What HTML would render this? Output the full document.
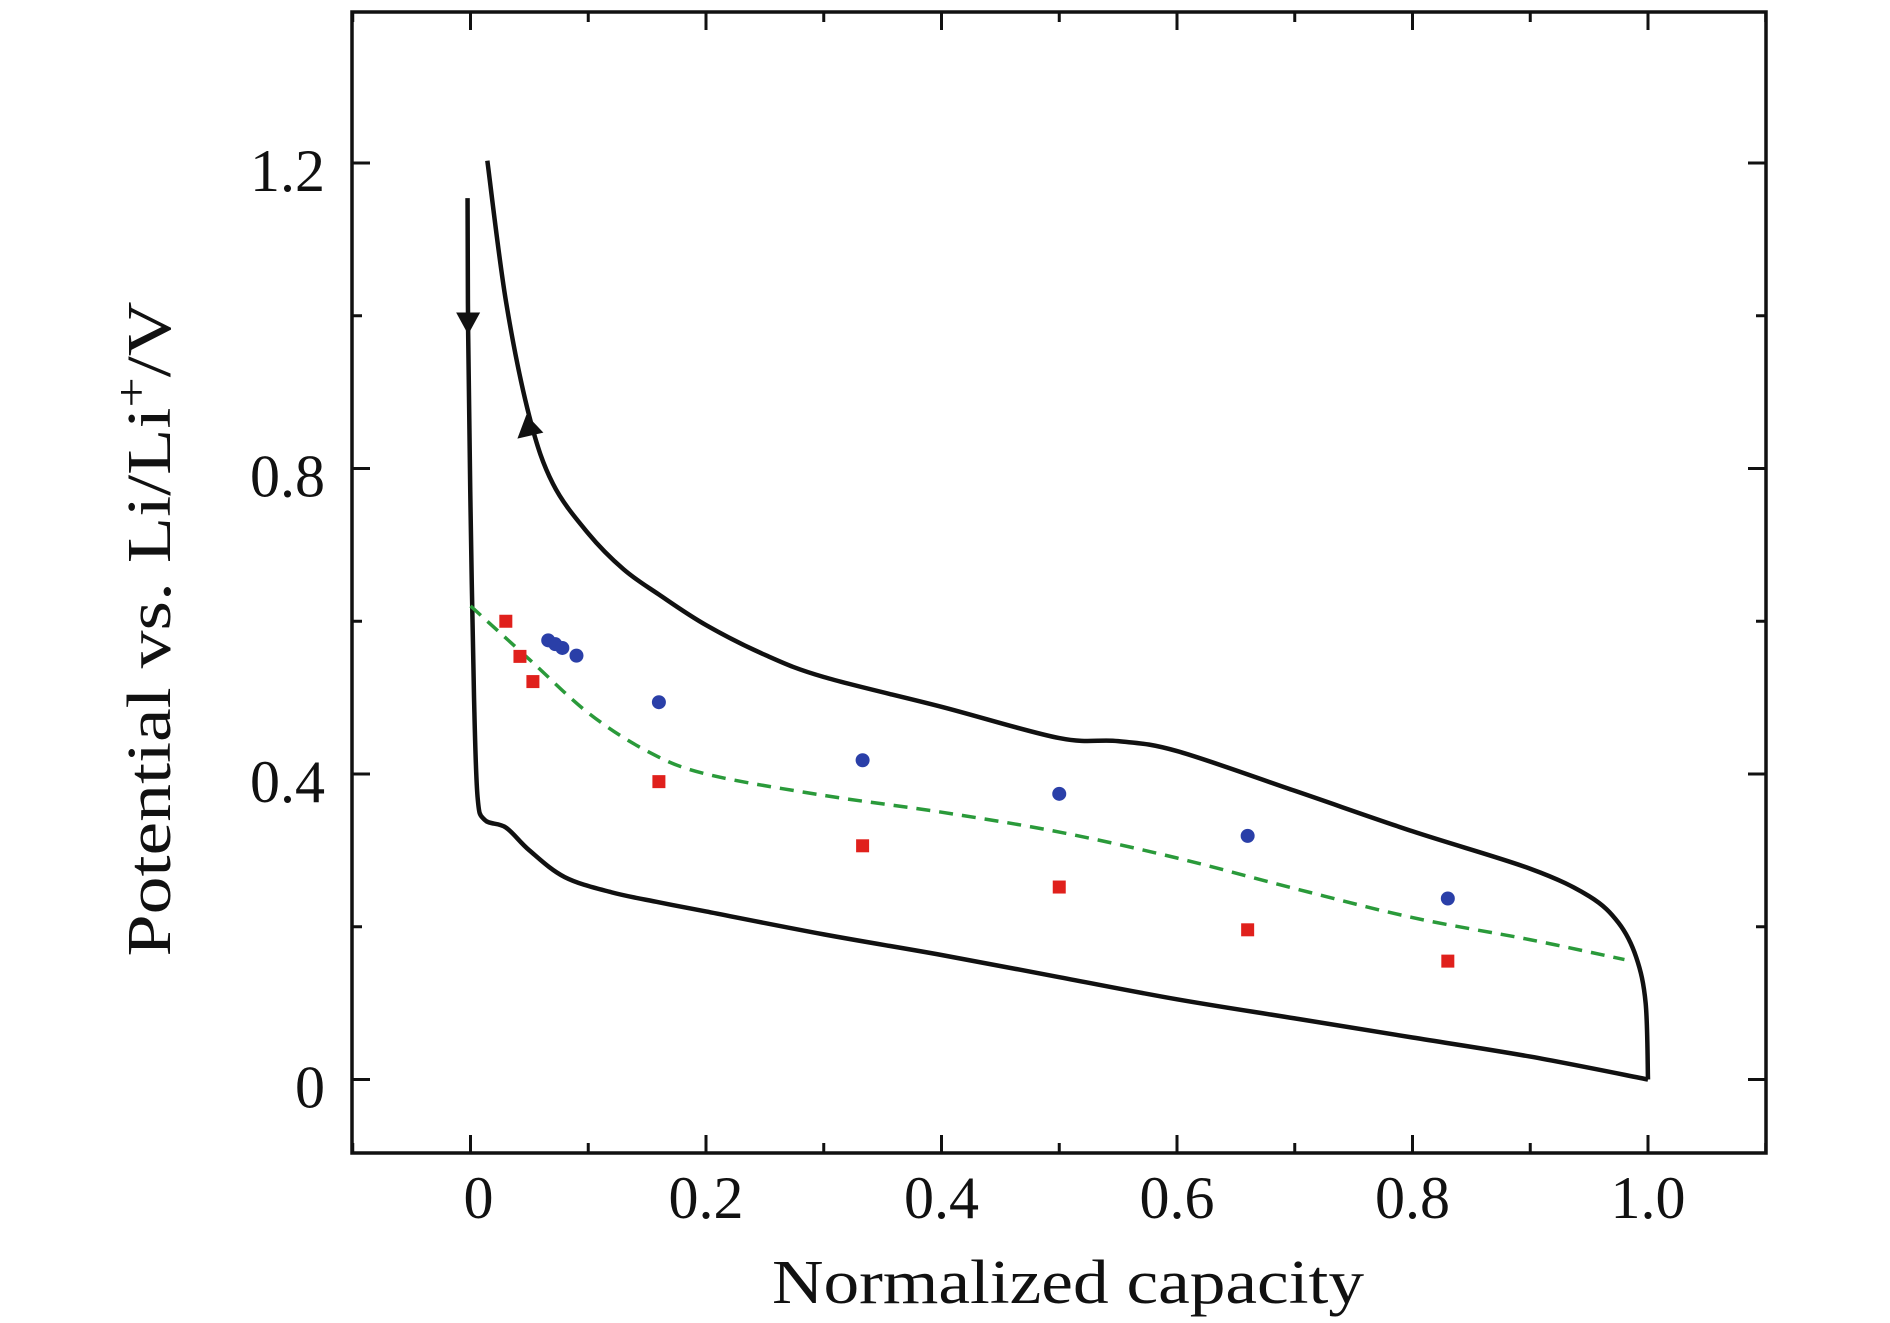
<!DOCTYPE html>
<html><head><meta charset="utf-8"><style>
html,body{margin:0;padding:0;background:#fff}
svg{display:block}
text{font-family:"Liberation Serif",serif;fill:#111}
</style></head><body>
<svg id="chart" width="1890" height="1323" viewBox="0 0 1890 1323" xmlns="http://www.w3.org/2000/svg">
<g id="g"></g>
</svg>
<script>
// ---- data ----
const chargeX = [0.0143,0.03,0.05,0.07,0.1,0.13,0.16,0.2,0.25,0.3,0.4,0.5,0.55,0.6,0.7,0.8,0.9,0.95,0.975,0.99,0.998,1.0];
const chargeY = [1.203,1.02,0.868,0.78,0.715,0.668,0.635,0.595,0.556,0.527,0.488,0.447,0.443,0.43,0.378,0.325,0.276,0.24,0.205,0.16,0.1,0.0];
const dischargeX = [-0.0025,-0.002,0.0,0.003,0.006,0.012,0.03,0.05,0.08,0.12,0.16,0.2,0.3,0.4,0.5,0.6,0.7,0.8,0.9,1.0];
const dischargeY = [1.154,0.978,0.75,0.5,0.37,0.34,0.33,0.3,0.265,0.245,0.232,0.22,0.19,0.163,0.134,0.105,0.08,0.055,0.03,0.0];
const fitX = [0.0,0.05,0.1,0.15,0.2,0.3,0.4,0.5,0.6,0.7,0.8,0.9,0.98];
const fitY = [0.62,0.55,0.48,0.43,0.4,0.372,0.35,0.324,0.29,0.25,0.212,0.183,0.157];
const squareX = [0.03,0.042,0.053,0.16,0.333,0.5,0.66,0.83];
const squareY = [0.6,0.554,0.521,0.39,0.306,0.252,0.196,0.155];
const circleX = [0.066,0.072,0.078,0.09,0.16,0.333,0.5,0.66,0.83];
const circleY = [0.575,0.57,0.565,0.555,0.494,0.418,0.374,0.319,0.237];
const xTicks = [0,0.2,0.4,0.6,0.8,1.0];
const xTickLabels = ["0","0.2","0.4","0.6","0.8","1.0"];
const yTicks = [0,0.4,0.8,1.2];
const yTickLabels = ["0","0.4","0.8","1.2"];
const xMinor = [-0.1,0.1,0.3,0.5,0.7,0.9,1.1];
const yMinor = [0.2,0.6,1.0];

// ---- axes ----
const L=352,R=1766,T=12,B=1153;
function sx(v){return 470.5+v*1177.5;}
function sy(v){return 1079.5-v*763.75;}
const NS="http://www.w3.org/2000/svg";
const g=document.getElementById('g');
function mk(tag,attrs,parent){const e=document.createElementNS(NS,tag);for(const k in attrs)e.setAttribute(k,attrs[k]);(parent||g).appendChild(e);return e;}
function smooth(xs,ys){
  const p=xs.map((x,i)=>[sx(x),sy(ys[i])]);
  let d='M'+p[0][0]+','+p[0][1];
  for(let i=0;i<p.length-1;i++){
    const p0=p[i-1]||p[i],p1=p[i],p2=p[i+1],p3=p[i+2]||p2;
    const c1=[p1[0]+(p2[0]-p0[0])/6,p1[1]+(p2[1]-p0[1])/6];
    const c2=[p2[0]-(p3[0]-p1[0])/6,p2[1]-(p3[1]-p1[1])/6];
    d+=` C${c1[0]},${c1[1]} ${c2[0]},${c2[1]} ${p2[0]},${p2[1]}`;
  }
  return d;
}
// ticks
xTicks.concat(xMinor).forEach((v,i)=>{
  const len=i<xTicks.length?18:10;
  const t1=mk('line',{x1:sx(v),x2:sx(v),y1:B,y2:B-len,stroke:'#111','stroke-width':3});
  
  
  const t2=mk('line',{x1:sx(v),x2:sx(v),y1:T,y2:T+len,stroke:'#111','stroke-width':3});
  
  
});
yTicks.concat(yMinor).forEach((v,i)=>{
  const len=i<yTicks.length?18:10;
  const t1=mk('line',{x1:L,x2:L+len,y1:sy(v),y2:sy(v),stroke:'#111','stroke-width':3});
  
  
  const t2=mk('line',{x1:R,x2:R-len,y1:sy(v),y2:sy(v),stroke:'#111','stroke-width':3});
  
  
});
xTicks.forEach((v,i)=>{
  const t=mk('text',{x:sx(v)+(i===0?8:0),y:1218,'font-size':60,'text-anchor':'middle'});
  t.textContent=xTickLabels[i];
  
  
});
yTicks.forEach((v,i)=>{
  const t=mk('text',{x:325,y:sy(v)+28,'font-size':60,'text-anchor':'end'});
  t.textContent=yTickLabels[i];
  
  
});
// curves
const c=mk('path',{d:smooth(chargeX,chargeY),fill:'none',stroke:'#111','stroke-width':4.5,'stroke-linejoin':'round'});


const dc=mk('path',{d:smooth(dischargeX,dischargeY),fill:'none',stroke:'#111','stroke-width':4.5,'stroke-linejoin':'round'});


const f=mk('path',{d:smooth(fitX,fitY),fill:'none',stroke:'#2a9a3a','stroke-width':3.5,'stroke-dasharray':'14,9'});


// arrows
const ax=sx(dischargeX[1]),ay=sy(dischargeY[1]);
const a1=mk('polygon',{points:`${ax-12},${ay-20} ${ax+12},${ay-20} ${ax},${ay+2}`,fill:'#111'});


const bx=sx(chargeX[2]),by=sy(chargeY[2]);
const a2=mk('polygon',{points:`${bx-3},${by-2} ${bx-12},${by+22} ${bx+14},${by+16}`,fill:'#111'});


// markers
squareX.forEach((v,i)=>{
  const s=mk('rect',{x:sx(v)-6.5,y:sy(squareY[i])-6.5,width:13,height:13,fill:'#e0201c'});
  
  
});
circleX.forEach((v,i)=>{
  const s=mk('circle',{cx:sx(v),cy:sy(circleY[i]),r:7,fill:'#2a3fa8'});
  
  
});
// frame
const fr=mk('rect',{x:L,y:T,width:R-L,height:B-T,fill:'none',stroke:'#111','stroke-width':3.5});


// titles
const xt=mk('text',{x:1068,y:1303,'font-size':62,'text-anchor':'middle',textLength:592,lengthAdjust:'spacingAndGlyphs'});
xt.textContent='Normalized capacity';


const yt=mk('text',{x:0,y:0,'font-size':62,'text-anchor':'middle',transform:'translate(170,629) rotate(-90)',textLength:655,lengthAdjust:'spacingAndGlyphs'});
yt.innerHTML='Potential vs. Li/Li<tspan dy="-24" font-size="44">+</tspan><tspan dy="24">/V</tspan>';


</script>
</body></html>
